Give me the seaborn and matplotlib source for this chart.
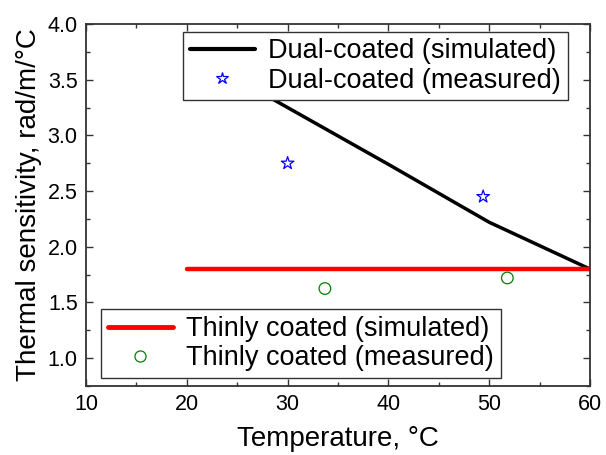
import matplotlib
matplotlib.use("Agg")
import matplotlib.pyplot as plt
import seaborn as sns
from matplotlib.ticker import MultipleLocator, FormatStrFormatter
from matplotlib.lines import Line2D

dual_sim_x = [20, 30, 40, 50, 60]
dual_sim_y = [3.76, 3.25, 2.74, 2.22, 1.80]
dual_meas_x = [30.0, 49.4]
dual_meas_y = [2.75, 2.45]
thin_sim_x = [20, 60]
thin_sim_y = [1.80, 1.80]
thin_meas_x = [33.7, 51.8]
thin_meas_y = [1.625, 1.72]

sns.set_style("ticks")
plt.rcParams['font.family'] = ['Liberation Sans', 'DejaVu Sans']

fig = plt.figure(figsize=(6.06, 4.55), dpi=100)
ax = fig.add_axes([86/606, 1-386/455, (590-86)/606, (386-24)/455])

sns.lineplot(x=dual_sim_x, y=dual_sim_y, ax=ax, color='black', lw=2.5, legend=False)
sns.scatterplot(x=dual_meas_x, y=dual_meas_y, ax=ax, marker='*', s=90,
                facecolor='none', edgecolor='blue', linewidth=0.9, legend=False)
sns.lineplot(x=thin_sim_x, y=thin_sim_y, ax=ax, color='red', lw=3.2, legend=False)
sns.scatterplot(x=thin_meas_x, y=thin_meas_y, ax=ax, marker='o', s=70,
                facecolor='none', edgecolor='green', linewidth=0.9, legend=False)

ax.set_xlim(10, 60)
ax.set_ylim(0.75, 4.0)
ax.xaxis.set_major_locator(MultipleLocator(10))
ax.xaxis.set_minor_locator(MultipleLocator(5))
ax.yaxis.set_major_locator(MultipleLocator(0.5))
ax.yaxis.set_minor_locator(MultipleLocator(0.25))
ax.yaxis.set_major_formatter(FormatStrFormatter('%.1f'))
ax.tick_params(which='both', direction='in', top=True, right=True, color='#333333',
               labelcolor='black')
ax.tick_params(which='major', length=5, width=1, labelsize=15.5, pad=6)
ax.tick_params(which='minor', length=3, width=1)
for sp in ax.spines.values():
    sp.set_visible(True)
    sp.set_color('#333333')
    sp.set_linewidth(1.3)

ax.set_xlabel('Temperature, \u00b0C', fontsize=20, labelpad=8, color='black')
ax.set_ylabel('Thermal sensitivity, rad/m/\u00b0C', fontsize=20, labelpad=4, color='black')

h1 = Line2D([], [], color='black', lw=3)
h2 = Line2D([], [], ls='none', marker='*', mfc='none', mec='blue', ms=9, mew=0.9)
h3 = Line2D([], [], color='red', lw=3.5)
h4 = Line2D([], [], ls='none', marker='o', mfc='none', mec='green', ms=8, mew=0.9)

common = dict(bbox_transform=fig.transFigure, fontsize=19.5, frameon=True,
              fancybox=False, edgecolor='#333333', framealpha=1,
              handlelength=2.4, borderpad=0.25, labelspacing=0.12,
              handletextpad=0.5, borderaxespad=0)
leg1 = ax.legend([h1, h2], ['Dual-coated (simulated)', 'Dual-coated (measured)'],
                 loc='upper right', bbox_to_anchor=(568/606, 1-31.7/455), **common)
leg1.get_frame().set_linewidth(1.0)
ax.add_artist(leg1)
leg2 = ax.legend([h3, h4], ['Thinly coated (simulated)', 'Thinly coated (measured)'],
                 loc='lower left', bbox_to_anchor=(101/606, 1-378/455), **common)
leg2.get_frame().set_linewidth(1.0)
for t in leg1.get_texts() + leg2.get_texts():
    t.set_color('black')

fig.savefig('out.png', dpi=100)
